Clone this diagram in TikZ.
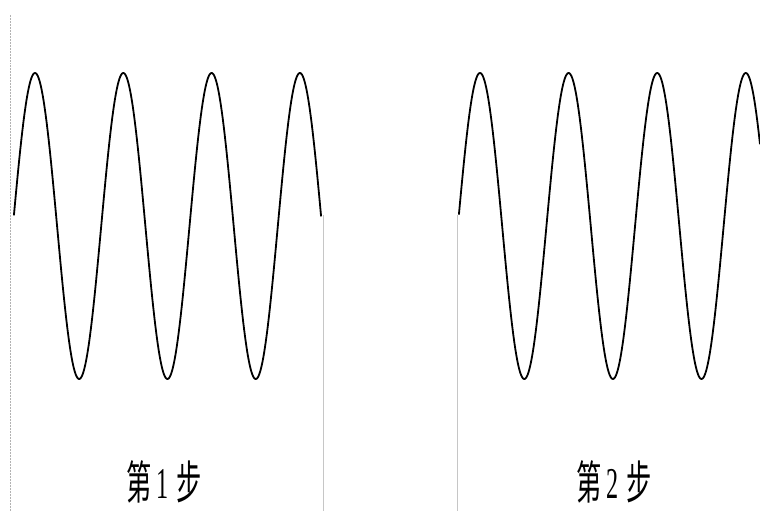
\documentclass[tikz,border=0pt]{standalone}
\usepackage{fontspec}
\newfontfamily\cjk{Noto Sans CJK SC}
\newfontfamily\digitfont{Liberation Serif}
\newcommand{\stepdigit}[1]{\raisebox{1pt}{\digitfont\fontsize{44}{44}\selectfont #1}}
\tikzset{
  wave/.style={line width=1.8pt, black, line join=round},
  guide/.style={line width=0.4pt, gray!45},
  dotguide/.style={line width=0.5pt, gray!60, densely dotted},
  steplabel/.style={inner sep=0pt, font=\cjk\fontsize{46}{46}\selectfont}
}
\begin{document}
\begin{tikzpicture}[x=1pt,y=-1pt]
\useasboundingbox (0,0) rectangle (760,511);
% guide lines
\coordinate (g0a) at (10,15);
\coordinate (g0b) at (10,511);
\coordinate (g1a) at (323,215);
\coordinate (g1b) at (323,511);
\coordinate (g2a) at (457,215);
\coordinate (g2b) at (457,511);
\draw[dotguide] (g0a) -- (g0b);
\draw[guide] (g1a) -- (g1b);
\draw[guide] (g2a) -- (g2b);
% waves
\draw[wave] plot[domain=13.9:321.1, samples=400] (\x, {226 - 153*sin((\x-35)*4.0770 + 90)});
\draw[wave] plot[domain=458.9:760, samples=400] (\x, {226 - 153*sin((\x-480)*4.0632 + 90)});
% labels
\node[steplabel] (lab1) at (164,482) {\scalebox{0.55}[1]{第\hspace{8pt}\stepdigit{1}\hspace{14pt}步}};
\node[steplabel] (lab2) at (614,482) {\scalebox{0.55}[1]{第\hspace{8pt}\stepdigit{2}\hspace{14pt}步}};
\end{tikzpicture}
\end{document}
